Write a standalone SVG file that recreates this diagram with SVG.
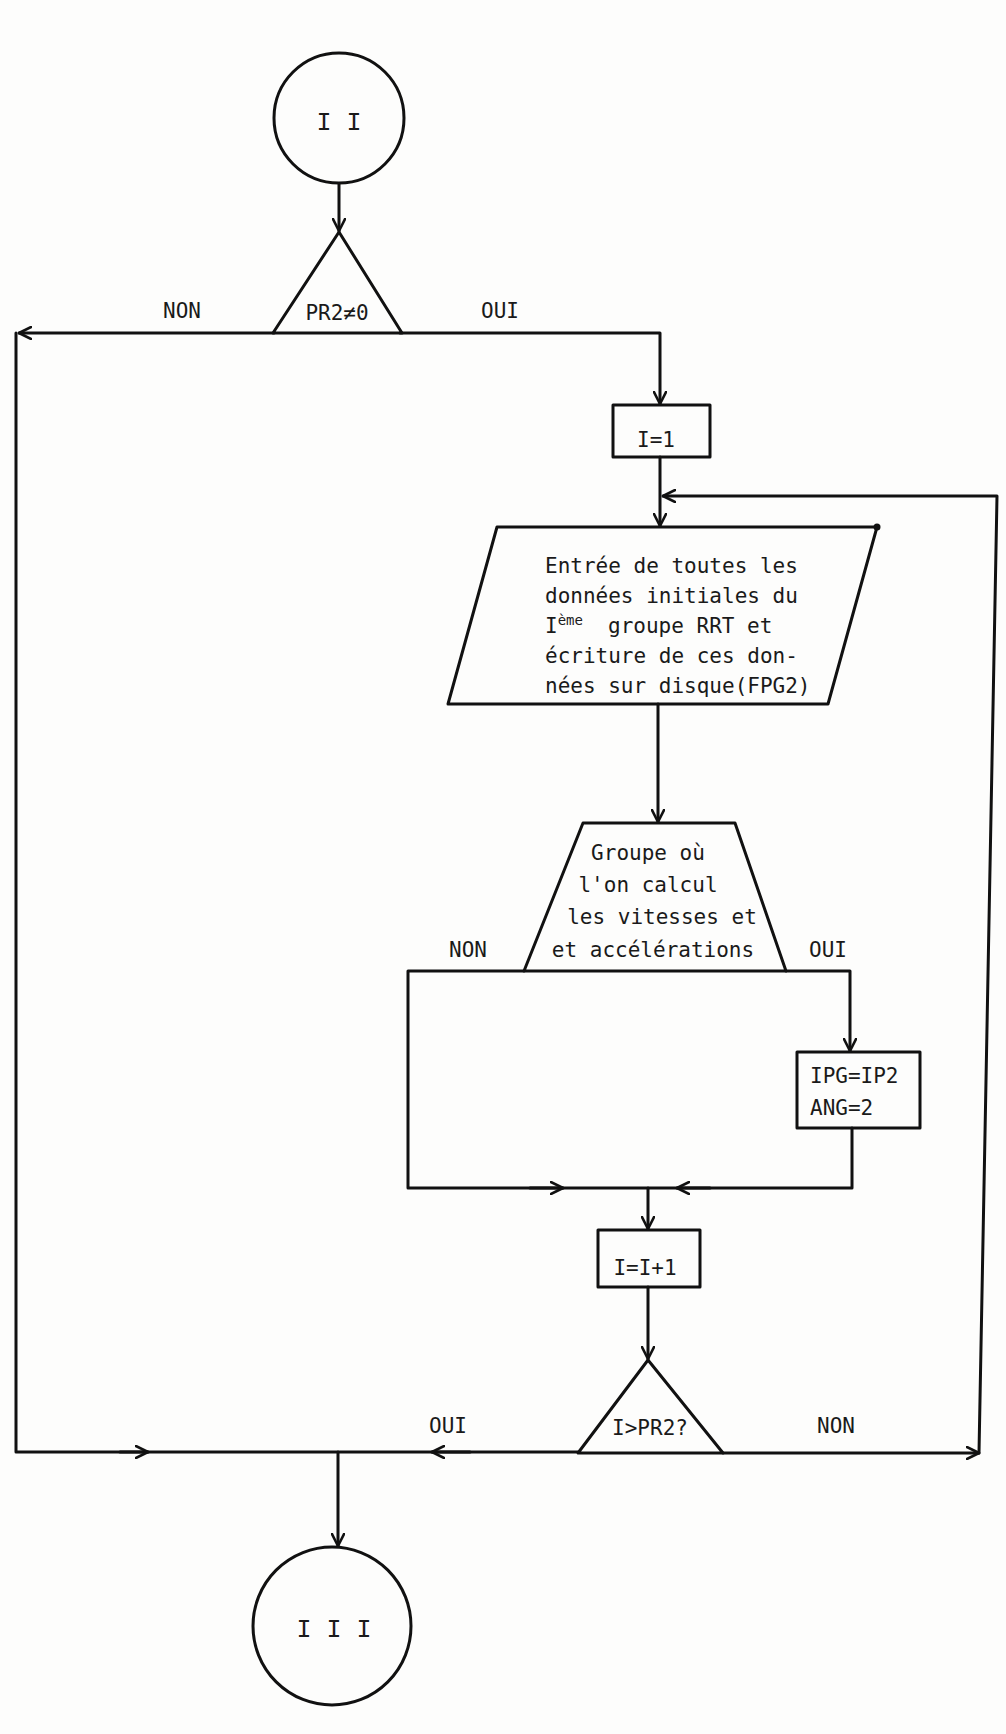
<svg xmlns="http://www.w3.org/2000/svg" width="1006" height="1734" viewBox="0 0 1006 1734">
<style>
.ln{fill:none;stroke:#111;stroke-width:3;stroke-linejoin:round;stroke-linecap:round}
.sh{fill:none;stroke:#111;stroke-width:3;stroke-linejoin:round}
.t{font-family:"DejaVu Sans Mono","Liberation Mono",monospace;font-size:21px;fill:#1a1a1a}
.c{text-anchor:middle}
.roman{font-family:"Liberation Mono","DejaVu Sans Mono",monospace;font-size:25px;fill:#1a1a1a;text-anchor:middle}
</style>
<defs>
<marker id="ah" viewBox="0 0 14 14" refX="13" refY="7" markerWidth="14" markerHeight="14" markerUnits="userSpaceOnUse" orient="auto">
<path d="M1,1 L13,7 L1,13" fill="none" stroke="#111" stroke-width="2.6" stroke-linejoin="round" stroke-linecap="round"/>
</marker>
</defs>
<rect x="0" y="0" width="1006" height="1734" fill="#fdfdfc"/>

<g id="connectors">
<path class="ln" d="M339,184 V231" marker-end="url(#ah)"/>
<path class="ln" d="M274,333 H19" marker-end="url(#ah)"/>
<path class="ln" d="M16,333 V1452 H578"/>
<path class="ln" d="M120,1452 H148" marker-end="url(#ah)"/>
<path class="ln" d="M470,1452 H432" marker-end="url(#ah)"/>
<path class="ln" d="M400,333 H660 V404" marker-end="url(#ah)"/>
<path class="ln" d="M660,457 V526" marker-end="url(#ah)"/>
<path class="ln" d="M723,1453 H979" marker-end="url(#ah)"/>
<path class="ln" d="M979,1453 L997,496 H663" marker-end="url(#ah)"/>
<path class="ln" d="M658,704 V822" marker-end="url(#ah)"/>
<path class="ln" d="M524,971 H408 V1188 H852 V1128"/>
<path class="ln" d="M530,1188 H563" marker-end="url(#ah)"/>
<path class="ln" d="M710,1188 H677" marker-end="url(#ah)"/>
<path class="ln" d="M786,971 H850 V1051" marker-end="url(#ah)"/>
<path class="ln" d="M648,1188 V1229" marker-end="url(#ah)"/>
<path class="ln" d="M648,1287 V1359" marker-end="url(#ah)"/>
<path class="ln" d="M338,1452 V1546" marker-end="url(#ah)"/>
</g>

<g id="start-II">
<circle class="sh" cx="339" cy="118" r="65"/>
<text class="roman" x="339" y="130">I I</text>
</g>

<g id="test-PR2">
<path class="sh" d="M339,232 L273,333 H402 Z"/>
<text class="t c" x="337" y="320">PR2≠0</text>
</g>
<text class="t c" x="182" y="318">NON</text>
<text class="t c" x="500" y="318">OUI</text>

<g id="init-I">
<rect class="sh" x="613" y="405" width="97" height="52"/>
<text class="t c" x="656" y="447">I=1</text>
</g>

<g id="input-data">
<path class="sh" d="M497,527 H877 L828,704 H448 Z"/>
<circle cx="877" cy="527" r="3.5" fill="#111"/>
<text class="t" x="545" y="573">Entrée de toutes les</text>
<text class="t" x="545" y="603">données initiales du</text>
<text class="t" x="545" y="633">I<tspan font-size="14" dy="-8">ème</tspan><tspan x="608" dy="8">groupe RRT et</tspan></text>
<text class="t" x="545" y="663">écriture de ces don-</text>
<text class="t" x="545" y="693">nées sur disque(FPG2)</text>
</g>

<g id="test-group">
<path class="sh" d="M583,823 H735 L786,971 H524 Z"/>
<text class="t c" x="648" y="860">Groupe où</text>
<text class="t c" x="648" y="892">l'on calcul</text>
<text class="t c" x="662" y="924">les vitesses et</text>
<text class="t c" x="653" y="957">et accélérations</text>
</g>
<text class="t c" x="468" y="957">NON</text>
<text class="t c" x="828" y="957">OUI</text>

<g id="set-IPG">
<rect class="sh" x="797" y="1052" width="123" height="76"/>
<text class="t" x="810" y="1083">IPG=IP2</text>
<text class="t" x="810" y="1115">ANG=2</text>
</g>

<g id="incr-I">
<rect class="sh" x="598" y="1230" width="102" height="57"/>
<text class="t c" x="645" y="1275">I=I+1</text>
</g>

<g id="test-I">
<path class="sh" d="M648,1360 L578,1453 H723 Z"/>
<text class="t c" x="650" y="1435">I&gt;PR2?</text>
</g>
<text class="t c" x="448" y="1433">OUI</text>
<text class="t c" x="836" y="1433">NON</text>

<g id="end-III">
<circle class="sh" cx="332" cy="1626" r="79"/>
<text class="roman" x="334" y="1637">I I I</text>
</g>
</svg>
